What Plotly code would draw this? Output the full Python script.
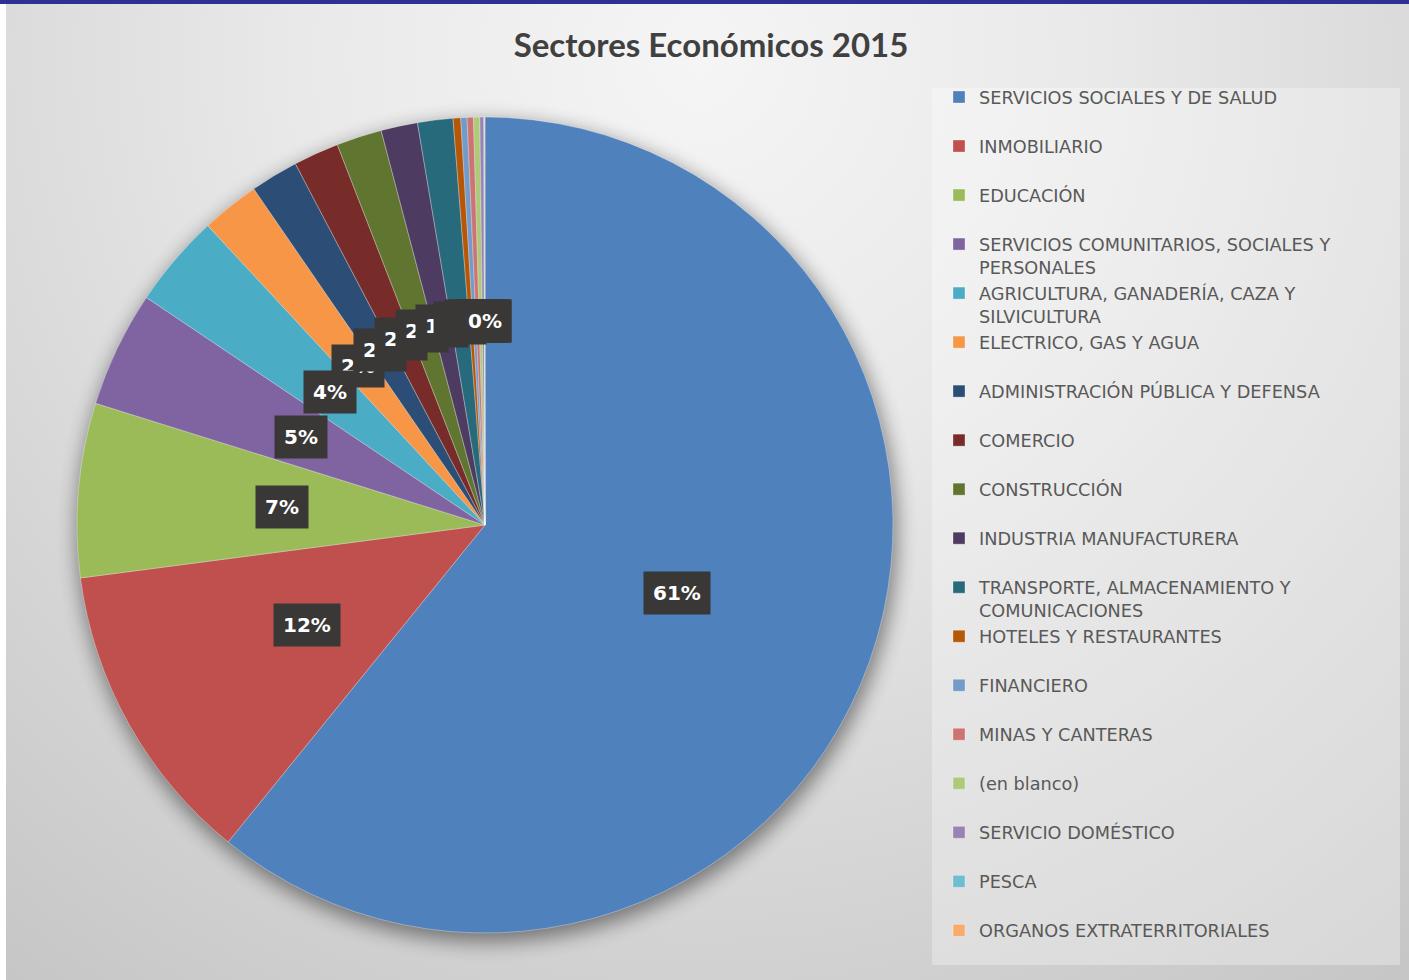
import base64
import math
import textwrap
import plotly.graph_objects as go

# ---------------- data ----------------
categories = [
    "SERVICIOS SOCIALES Y DE SALUD",
    "INMOBILIARIO",
    "EDUCACIÓN",
    "SERVICIOS COMUNITARIOS, SOCIALES Y PERSONALES",
    "AGRICULTURA, GANADERÍA, CAZA Y SILVICULTURA",
    "ELECTRICO, GAS Y AGUA",
    "ADMINISTRACIÓN PÚBLICA Y DEFENSA",
    "COMERCIO",
    "CONSTRUCCIÓN",
    "INDUSTRIA MANUFACTURERA",
    "TRANSPORTE, ALMACENAMIENTO Y COMUNICACIONES",
    "HOTELES Y RESTAURANTES",
    "FINANCIERO",
    "MINAS Y CANTERAS",
    "(en blanco)",
    "SERVICIO DOMÉSTICO",
    "PESCA",
    "ORGANOS EXTRATERRITORIALES",
]
values = [60.9, 12.1, 6.9, 4.6, 3.7, 2.3, 1.9, 1.8, 1.8, 1.45, 1.4,
          0.3, 0.25, 0.25, 0.25, 0.15, 0.03, 0.02]
colors = ["#4F81BD", "#C0504D", "#9BBB59", "#8064A2", "#4BACC6", "#F79646",
          "#2C4D75", "#772C2A", "#5F7530", "#4D3B62", "#276A7C", "#B65708",
          "#729ACA", "#CD7371", "#AFC97A", "#9983B5", "#6FBDD1", "#F9AB6B"]
title_text = "Sectores Económicos 2015"

# ---------------- layout constants ----------------
W, H = 1409, 980
CX, CY, R = 485, 525, 408          # pie centre / radius in pixels
LABEL_R = 0.5                      # label distance as fraction of radius

total = sum(values)


def wrap_label(name):
    lines = textwrap.wrap(name, 36)
    if len(lines) == 1:
        lines.append(" ")
    return "<br>".join(lines)


legend_labels = [wrap_label(c) for c in categories]

pie = go.Pie(
    labels=legend_labels,
    values=values,
    sort=False,
    direction="clockwise",
    rotation=0,
    marker=dict(colors=colors, line=dict(color="rgba(255,255,255,0.45)", width=0.7)),
    textinfo="none",
    hoverinfo="label+percent",
    domain=dict(x=[(CX - R) / W, (CX + R) / W],
                y=[1 - (CY + R) / H, 1 - (CY - R) / H]),
)

fig = go.Figure(pie)

# percentage labels in dark boxes
small_labels, big_labels = [], []
cum = 0.0
for v in values:
    theta = math.radians(360.0 * (cum + v / 2.0) / total)
    cum += v
    xp = CX + LABEL_R * R * math.sin(theta)
    yp = CY - LABEL_R * R * math.cos(theta)
    pct = round(100.0 * v / total)
    ann = dict(
        x=xp / W, y=1 - yp / H, xref="paper", yref="paper",
        text=f"{pct}%", showarrow=False,
        font=dict(family="DejaVu Sans", size=20, color="white", weight="bold"),
        bgcolor="#393836", height=24, borderpad=9,
        xanchor="center", yanchor="middle",
    )
    (small_labels if pct <= 3 else big_labels).append(ann)
annotations = small_labels + big_labels

svg = f'''<svg xmlns="http://www.w3.org/2000/svg" width="{W}" height="{H}" viewBox="0 0 {W} {H}">
<defs>
<radialGradient id="g" gradientUnits="userSpaceOnUse" cx="700" cy="60" r="1150">
<stop offset="0" stop-color="#f5f5f5"/>
<stop offset="0.35" stop-color="#e9e9e9"/>
<stop offset="0.7" stop-color="#d6d6d6"/>
<stop offset="1" stop-color="#c6c6c6"/>
</radialGradient>
<filter id="b" x="-20%" y="-20%" width="140%" height="140%"><feGaussianBlur stdDeviation="10"/></filter>
</defs>
<rect width="{W}" height="{H}" fill="#ffffff"/>
<rect x="6" y="4" width="{W-6}" height="{H-4}" fill="url(#g)"/>
<rect x="0" y="0" width="{W}" height="4" fill="#2e3192"/>
<circle cx="{CX+2}" cy="{CY+7}" r="{R+2}" fill="#000" opacity="0.45" filter="url(#b)"/>
<rect x="932" y="88" width="468" height="877" fill="#ffffff" opacity="0.3"/>
</svg>'''
bg_uri = "data:image/svg+xml;base64," + base64.b64encode(svg.encode("utf-8")).decode("ascii")

fig.update_layout(
    width=W, height=H,
    margin=dict(l=0, r=0, t=0, b=0),
    paper_bgcolor="#d8d8d8",
    plot_bgcolor="rgba(0,0,0,0)",
    title=dict(text=title_text, x=711 / W, y=1 - 45 / H, xanchor="center", yanchor="middle",
               font=dict(family="Lato", size=33, color="#404040", weight="bold")),
    legend=dict(
        x=939 / W, y=1 - 79 / H, xanchor="left", yanchor="top",
        bgcolor="rgba(0,0,0,0)", valign="top",
        font=dict(family="DejaVu Sans", size=17.7, color="#595959"),
    ),
    annotations=annotations,
    images=[dict(source=bg_uri, xref="paper", yref="paper", x=0, y=1, sizex=1, sizey=1,
                 xanchor="left", yanchor="top", sizing="stretch", layer="below")],
)

fig.write_html("out.html", config={"displayModeBar": False},
               post_script="document.body.style.margin='0';")
